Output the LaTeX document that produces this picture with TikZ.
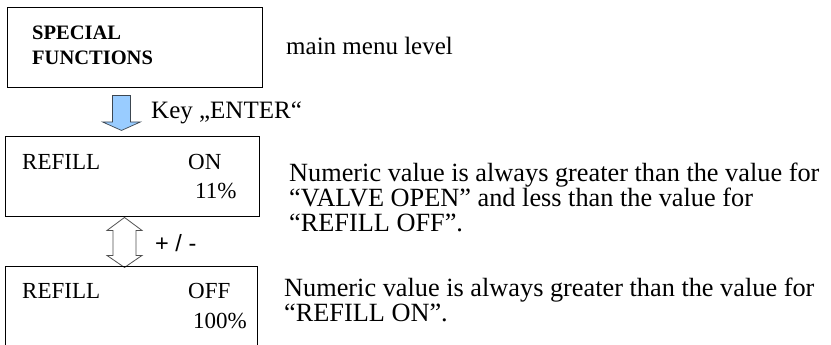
\documentclass[tikz,border=0pt]{standalone}
\usepackage{fontspec}
\setmainfont{Liberation Serif}
\newfontfamily\keysans{Liberation Sans}
\usetikzlibrary{calc,positioning}
\definecolor{keyblue}{HTML}{99CCFF}
\definecolor{keyedge}{HTML}{3C4650}
\definecolor{stepgrey}{HTML}{505050}

\tikzset{
  menubox/.style={draw, line width=0.9pt, inner sep=0pt},
  boxlabel/.style={anchor=base west, inner sep=0pt, font=\fontsize{23}{26}\selectfont},
  headlabel/.style={anchor=base west, inner sep=0pt, font=\fontsize{20.5}{25}\selectfont\bfseries},
  menutext/.style={anchor=base west, inner sep=0pt, font=\fontsize{25}{27}\selectfont},
  notetext/.style={anchor=base west, inner sep=0pt, align=left, font=\fontsize{26.3}{25}\selectfont},
  keyarrow/.style={fill=keyblue, draw=keyedge, line width=0.7pt, line join=miter},
  steparrow/.style={fill=white, draw=stepgrey, line width=0.8pt, line join=miter}
}

\begin{document}
\begin{tikzpicture}[x=1pt, y=-1pt]
    \useasboundingbox (0,0) rectangle (831,345);
    \clip (0,0) rectangle (831,345);

    \node[menubox, minimum width=255, minimum height=80] (special) at (134.5,47) {};
    \node[headlabel] (specialA) at (32,40) {SPECIAL};
    \node[headlabel] (specialB) at (32,65) {FUNCTIONS};
    \node[menutext] (mainlevel) at (286,55) {main menu level};

    \coordinate (enter) at ($(special.south)+(-13,8)$);
    \draw[keyarrow] (enter) ++(-9,0) -- ++(18,0) -- ++(0,26.5) -- ++(10,0)
      -- ++(-19,8.5) -- ++(-19,-8.5) -- ++(10,0) -- cycle;
    \node[menutext] (enterkey) at (151,119) {Key ,,ENTER``};

    \node[menubox, minimum width=254, minimum height=80] (refillon) at (132,176) {};
    \node[boxlabel] (onA) at (22,169) {REFILL};
    \node[boxlabel] (onB) at (188,169) {ON};
    \node[boxlabel] (onC) at (195,198) {11\%};
    \node[notetext] (onnote) at (289,231) {Numeric value is always greater than the value for\\
      ``VALVE OPEN'' and less than the value for\\ ``REFILL OFF''.};

    \coordinate (plusminus) at ($(refillon.south)+(-7.5,1)$);
    \draw[steparrow] (plusminus) -- ++(17.5,13) -- ++(-6,0) -- ++(0,25) -- ++(6,0)
      -- ++(-17.5,12) -- ++(-17.5,-12) -- ++(6,0) -- ++(0,-25) -- ++(-6,0) -- cycle;
    \node[anchor=base west, inner sep=0pt, font=\keysans\fontsize{23.5}{25}\selectfont] (pmlabel) at (155,251) {+ / -};

    \node[menubox, minimum width=252.5, minimum height=90] (refilloff) at (131.25,311) {};
    \node[boxlabel] (offA) at (22,298) {REFILL};
    \node[boxlabel] (offB) at (188,298) {OFF};
    \node[boxlabel] (offC) at (193,328) {100\%};
    \node[notetext] (offnote) at (284,321) {Numeric value is always greater than the value for\\
      ``REFILL ON''.};
\end{tikzpicture}
\end{document}
